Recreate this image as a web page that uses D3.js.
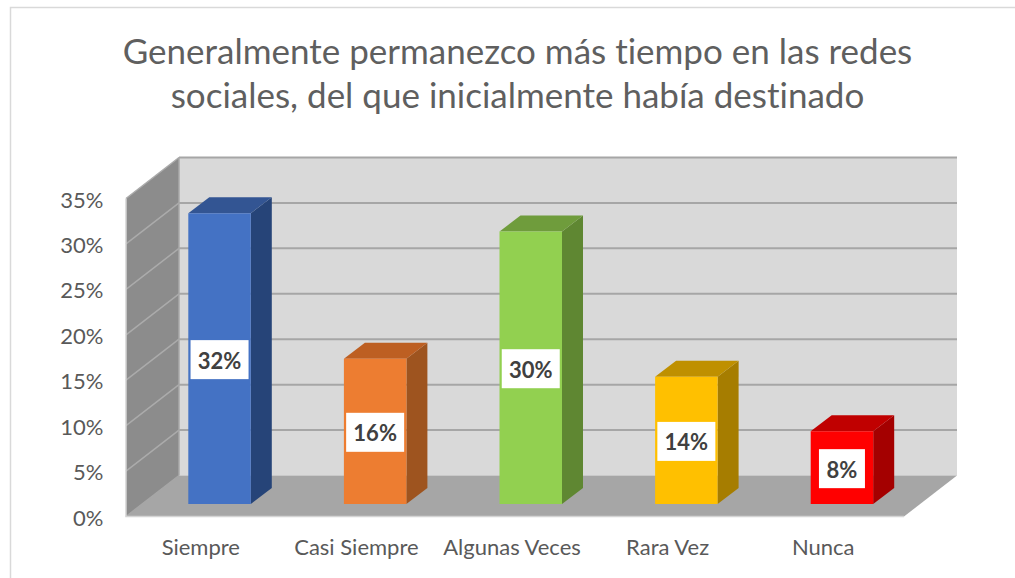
<!DOCTYPE html>
<html><head><meta charset="utf-8">
<script src="https://cdn.jsdelivr.net/npm/d3@7"></script>
<style>html,body{margin:0;padding:0;background:#fff}svg{display:block}
text{font-family:Lato,"Open Sans",sans-serif;font-variant-ligatures:none}</style></head><body>
<svg id="c" width="1015" height="578"></svg>
<script>
const categories=["Siempre","Casi Siempre","Algunas Veces","Rara Vez","Nunca"];
const values=[0.32,0.16,0.30,0.14,0.08];
const yTicks=[0,0.05,0.10,0.15,0.20,0.25,0.30,0.35];
const titleLines=["Generalmente permanezco más tiempo en las redes","sociales, del que inicialmente había destinado"];
const frontColors=["#4472c4","#ed7d31","#92d050","#ffc000","#ff0000"];
const sideColors=["#264478","#9e541f","#5f8732","#a67d00","#a40000"];
const topColors=["#335593","#bd5f22","#6f9c3c","#bf9000","#c00000"];

const svg=d3.select("#c");
const W={x0:126,x1:904,y0:516.5,y1:198.5,dx:53,dy:-41};
const y=d3.scaleLinear().domain([0,0.35]).range([W.y0,W.y1]);
const x=d3.scaleBand().domain(categories).range([W.x0,W.x1]);
const barW=62.5,barOff=62.3,bx=21,bdy=-16,lift=12.5;
const poly=(pts,f)=>svg.append("polygon").attr("points",pts.map(p=>p.join(",")).join(" ")).attr("fill",f);

// frame
svg.append("path").attr("d","M10.5,578V7.5H1015").attr("fill","none").attr("stroke","#d9d9d9").attr("stroke-width",1.5);

// walls
poly([[W.x0+W.dx,W.y1+W.dy],[W.x1+W.dx,W.y1+W.dy],[W.x1+W.dx,W.y0+W.dy],[W.x0+W.dx,W.y0+W.dy]],"#d9d9d9");
poly([[W.x0,W.y1],[W.x0+W.dx,W.y1+W.dy],[W.x0+W.dx,W.y0+W.dy],[W.x0,W.y0]],"#8c8c8c");
poly([[W.x0,W.y0],[W.x1,W.y0],[W.x1+W.dx,W.y0+W.dy],[W.x0+W.dx,W.y0+W.dy]],"#a6a6a6");

// gridlines
yTicks.forEach(t=>{
  svg.append("path").attr("d",`M${W.x0},${y(t)}L${W.x0+W.dx},${y(t)+W.dy}`).attr("stroke",t===0?"#a6a6a6":"#ababab").attr("stroke-width",1.5).attr("fill","none");
  if(t>0)svg.append("path").attr("d",`M${W.x0+W.dx},${y(t)+W.dy}H${W.x1+W.dx}`).attr("stroke","#a6a6a6").attr("stroke-width",2).attr("fill","none");
});
svg.append("path").attr("d",`M${W.x0},${W.y1}V${W.y0}H${W.x1}`).attr("stroke","#d4d4d4").attr("stroke-width",1.5).attr("fill","none");
svg.append("path").attr("d",`M${W.x0+W.dx},${W.y1+W.dy}V${W.y0+W.dy}`).attr("stroke","#a9a9a9").attr("stroke-width",1.5).attr("fill","none");

// axes
const ya=svg.append("g").attr("transform",`translate(${W.x0},1.5)`)
  .call(d3.axisLeft(y).tickValues(yTicks).tickSize(0).tickPadding(22.5).tickFormat(d3.format(".0%")));
ya.select(".domain").remove();
ya.selectAll("text").attr("fill","#595959").style("font-size","22px");
const xa=svg.append("g").attr("transform",`translate(-3,${W.y0})`)
  .call(d3.axisBottom(x).tickSize(0).tickPadding(23));
xa.select(".domain").remove();
xa.selectAll("text").attr("fill","#595959").style("font-size","22px");

// bars
categories.forEach((c,i)=>{
  const v=values[i],l=x(c)+barOff,r=l+barW,b=y(0)-lift,t=b-(y(0)-y(v));
  poly([[r,t],[r+bx,t+bdy],[r+bx,b+bdy],[r,b]],sideColors[i]);
  poly([[l,t],[l+bx,t+bdy],[r+bx,t+bdy],[r,t]],topColors[i]);
  poly([[l,t],[r,t],[r,b],[l,b]],frontColors[i]);
  const cx=l+barW/2,cy=(t+b)/2+1,lab=d3.format(".0%")(v),w=lab.length>2?58:46,h=39;
  svg.append("rect").attr("x",cx-w/2).attr("y",cy-h/2).attr("width",w).attr("height",h).attr("fill","#fff");
  svg.append("text").attr("x",cx).attr("y",cy+1).attr("dy","0.36em").attr("text-anchor","middle")
    .attr("fill","#404040").style("font-size","22px").style("font-weight",700).text(lab);
});

// title
svg.selectAll(".t").data(titleLines).join("text").attr("class","t").attr("x",517.5).attr("y",(d,i)=>[64,108][i])
  .attr("text-anchor","middle").attr("fill","#5f5f5f").style("font-size","35px").text(d=>d);
</script></body></html>
